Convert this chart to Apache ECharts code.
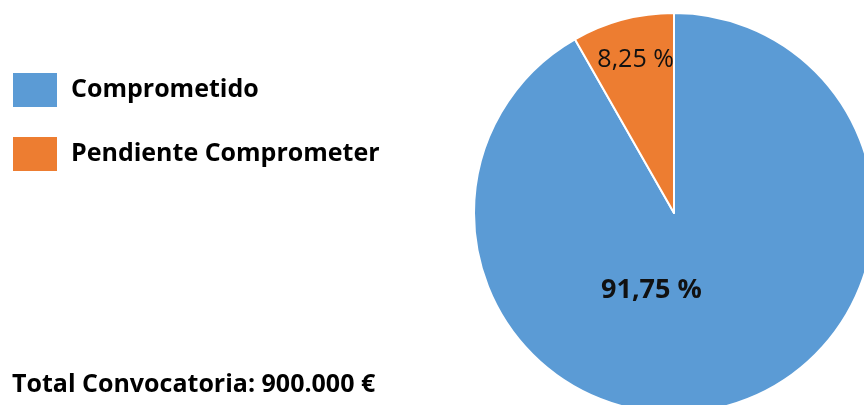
<!DOCTYPE html>
<html>
<head>
<meta charset="utf-8">
<script src="https://cdn.jsdelivr.net/npm/echarts@6.0.0/dist/echarts.min.js"></script>
<style>
  html, body { margin: 0; padding: 0; background: #fff; }
  #chart { width: 864px; height: 405px; }
</style>
</head>
<body>
<div id="chart"></div>
<script>
const categories = ["Comprometido", "Pendiente Comprometer"];
const values = [91.75, 8.25];
const sliceColors = ["#5b9bd5", "#ed7d31"];
const totalLabel = "Total Convocatoria: 900.000 €";

function formatPercentEs(value) {
  return `${value.toFixed(2).replace(".", ",")} %`;
}

function renderChart() {
  const chart = echarts.init(document.getElementById("chart"));
  // label offsets nudge ECharts' inside position to where Excel put them
  const labelTweaks = [
    { offset: [-49, -22], fontSize: 27, fontWeight: "bold" },
    { offset: [-12, -54], fontSize: 25, fontWeight: 500 },
  ];
  const data = categories.map((name, i) => ({
    name,
    value: values[i],
    itemStyle: { color: sliceColors[i] },
    label: labelTweaks[i],
  }));

  chart.setOption({
    animation: false,
    title: {
      text: totalLabel,
      left: 12,
      top: 372,
      padding: 0,
      textStyle: { fontFamily: "Open Sans", fontSize: 25, fontWeight: "bold", color: "#000" },
    },
    legend: {
      orient: "vertical",
      left: 11,
      top: 71,
      padding: 0,
      icon: "rect",
      itemWidth: 46,
      itemHeight: 36,
      itemGap: 26,
      data: categories,
      textStyle: {
        fontFamily: "Open Sans",
        fontSize: 25,
        fontWeight: "bold",
        color: "#000",
        padding: [3, 0, 0, 8],
      },
    },
    series: [
      {
        type: "pie",
        center: [674, 213],
        radius: 200,
        startAngle: 90,
        clockwise: true,
        data,
        itemStyle: { borderColor: "#fff", borderWidth: 2 },
        label: {
          show: true,
          position: "inside",
          fontFamily: "Open Sans",
          color: "#111",
          formatter: (p) => formatPercentEs(p.value),
        },
        labelLine: { show: false },
        emphasis: { disabled: true },
      },
    ],
  });
}

document.addEventListener("DOMContentLoaded", renderChart);
</script>
</body>
</html>
